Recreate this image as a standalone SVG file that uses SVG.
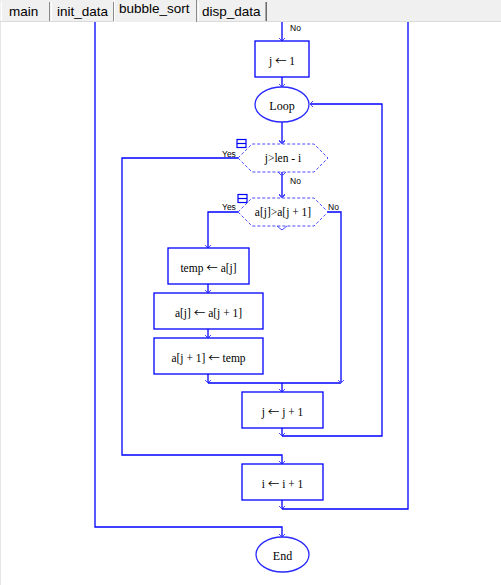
<svg xmlns="http://www.w3.org/2000/svg" width="501" height="585" viewBox="0 0 501 585">
<defs>
<marker id="ah" viewBox="-5 -5 10 10" markerWidth="10" markerHeight="10" refX="0" refY="0" orient="auto" markerUnits="userSpaceOnUse">
<path d="M-3,-3 L0,0 L-3,3" fill="none" stroke="#4848ff" stroke-width="1"/>
</marker>
</defs>
<style>
.ln{fill:none;stroke:#0000ff;stroke-width:1.3}
.bx{fill:#ffffff;stroke:#0000ff;stroke-width:1.3}
.el{fill:#ffffff;stroke:#2a2aff;stroke-width:1.3}
.hx{fill:#ffffff;stroke:#4a4aff;stroke-width:1;stroke-dasharray:3,2}
.nt{fill:none;stroke:#4a4aff;stroke-width:1}
.tx{font-family:"Liberation Serif","Times New Roman",serif;font-size:11.5px;fill:#000;text-anchor:middle}
.ar{font-family:"Noto Sans CJK SC","DejaVu Serif",serif;font-size:11.5px}
.tl{font-family:"Liberation Serif","Times New Roman",serif;font-size:12px;fill:#000;text-anchor:middle}
.lb{font-family:"Liberation Sans",Arial,sans-serif;font-size:8.5px;fill:#000}
.tab{font-family:"Liberation Sans",Arial,sans-serif;font-size:13.5px;fill:#000}
.ic{fill:#ffffff;stroke:#0000ff;stroke-width:1.2}
</style>
<rect x="0" y="0" width="501" height="585" fill="#ffffff"/>

<g id="connectors">
<path class="ln" d="M282,14 V41" marker-end="url(#ah)"/>
<path class="ln" d="M282,77 V87" marker-end="url(#ah)"/>
<path class="ln" d="M282,122 V143" marker-end="url(#ah)"/>
<path class="ln" d="M282,172 V197" marker-end="url(#ah)"/>
<path class="ln" d="M238,158 H122 V455 H282 V464" marker-end="url(#ah)"/>
<path class="ln" d="M238,212 H208 V248" marker-end="url(#ah)"/>
<path class="ln" d="M208,284 V293" marker-end="url(#ah)"/>
<path class="ln" d="M208,329 V338" marker-end="url(#ah)"/>
<path class="ln" d="M208,374 V383" marker-end="url(#ah)"/>
<path class="ln" d="M208,383 H341"/>
<path class="ln" d="M328,212 H341 V383" marker-end="url(#ah)"/>
<path class="ln" d="M282,383 V392" marker-end="url(#ah)"/>
<path class="ln" d="M282,428 V436" marker-end="url(#ah)"/>
<path class="ln" d="M282,436 H382 V104 H310" marker-end="url(#ah)"/>
<path class="ln" d="M282,500 V509" marker-end="url(#ah)"/>
<path class="ln" d="M282,509 H408 V20"/>
<path class="ln" d="M95,20 V527 H282 V537" marker-end="url(#ah)"/>
<text class="lb" x="290" y="31">No</text>
<text class="lb" x="222" y="157">Yes</text>
<text class="lb" x="290" y="184">No</text>
<text class="lb" x="222" y="210">Yes</text>
<text class="lb" x="328" y="210">No</text>
</g>

<g id="n_j1">
<rect class="bx" x="255" y="41" width="54" height="36"/>
<text class="tx" x="282" y="65">j <tspan class="ar">←</tspan> 1</text>
</g>
<g id="n_loop">
<ellipse class="el" cx="282" cy="104.5" rx="27" ry="17.5"/>
<text class="tl" x="282" y="110">Loop</text>
</g>
<g id="n_cond1">
<polygon class="hx" points="238,158 252,144 314,144 328,158 314,172 252,172"/>
<path class="nt" d="M279,141 L282,144 L285,141"/>
<path class="nt" d="M278,172 L282,176 L286,172"/>
<rect class="ic" x="237" y="139.5" width="9" height="8"/>
<line x1="237" y1="143.5" x2="246" y2="143.5" stroke="#0000ff" stroke-width="1.2"/>
<text class="tx" x="283" y="162">j&gt;len - i</text>
</g>
<g id="n_cond2">
<polygon class="hx" points="238,212 252,198 314,198 328,212 314,226 252,226"/>
<path class="nt" d="M279,195 L282,198 L285,195"/>
<path class="nt" d="M277,226 L282,230 L287,226"/>
<rect class="ic" x="238" y="194.5" width="9" height="8"/>
<line x1="238" y1="198.5" x2="247" y2="198.5" stroke="#0000ff" stroke-width="1.2"/>
<text class="tx" x="283" y="216">a[j]&gt;a[j + 1]</text>
</g>
<g id="n_temp">
<rect class="bx" x="168" y="248" width="81" height="36"/>
<text class="tx" x="208.5" y="272">temp <tspan class="ar">←</tspan> a[j]</text>
</g>
<g id="n_swap1">
<rect class="bx" x="154" y="293" width="109" height="36"/>
<text class="tx" x="208.5" y="317">a[j] <tspan class="ar">←</tspan> a[j + 1]</text>
</g>
<g id="n_swap2">
<rect class="bx" x="154" y="338" width="109" height="36"/>
<text class="tx" x="208.5" y="362">a[j + 1] <tspan class="ar">←</tspan> temp</text>
</g>
<g id="n_jinc">
<rect class="bx" x="242" y="392" width="81" height="36"/>
<text class="tx" x="282.5" y="416">j <tspan class="ar">←</tspan> j + 1</text>
</g>
<g id="n_iinc">
<rect class="bx" x="242" y="464" width="81" height="36"/>
<text class="tx" x="282.5" y="488">i <tspan class="ar">←</tspan> i + 1</text>
</g>
<g id="n_end">
<ellipse class="el" cx="282.5" cy="554.5" rx="26.5" ry="17.5"/>
<text class="tl" x="282.5" y="560">End</text>
</g>

<g id="tabbar">
<rect x="0" y="0" width="501" height="21" fill="#f0f0f0"/>
<line x1="0" y1="21.5" x2="501" y2="21.5" stroke="#dadada" stroke-width="1"/>
<line x1="0.5" y1="22" x2="0.5" y2="585" stroke="#e6e6e6" stroke-width="1"/>
<rect x="1" y="2" width="49" height="19" fill="#f0f0f0"/>
<line x1="1.5" y1="2" x2="1.5" y2="21" stroke="#ffffff"/>
<line x1="49.5" y1="2" x2="49.5" y2="21" stroke="#8a8a8a"/>
<text class="tab" x="9" y="16">main</text>
<line x1="51.5" y1="2" x2="51.5" y2="21" stroke="#ffffff"/>
<line x1="113.5" y1="2" x2="113.5" y2="21" stroke="#8a8a8a"/>
<text class="tab" x="57" y="16">init_data</text>
<rect x="114" y="0" width="83" height="22" fill="#f0f0f0"/>
<line x1="114.5" y1="0" x2="114.5" y2="22" stroke="#ffffff"/>
<line x1="196.5" y1="0" x2="196.5" y2="22" stroke="#8a8a8a"/>
<text class="tab" x="119" y="13">bubble_sort</text>
<line x1="198.5" y1="2" x2="198.5" y2="21" stroke="#ffffff"/>
<line x1="265.5" y1="2" x2="265.5" y2="21" stroke="#a8a8a8"/>
<line x1="266.5" y1="2" x2="266.5" y2="21" stroke="#6a6a6a"/>
<text class="tab" x="202" y="16">disp_data</text>
</g>
</svg>
